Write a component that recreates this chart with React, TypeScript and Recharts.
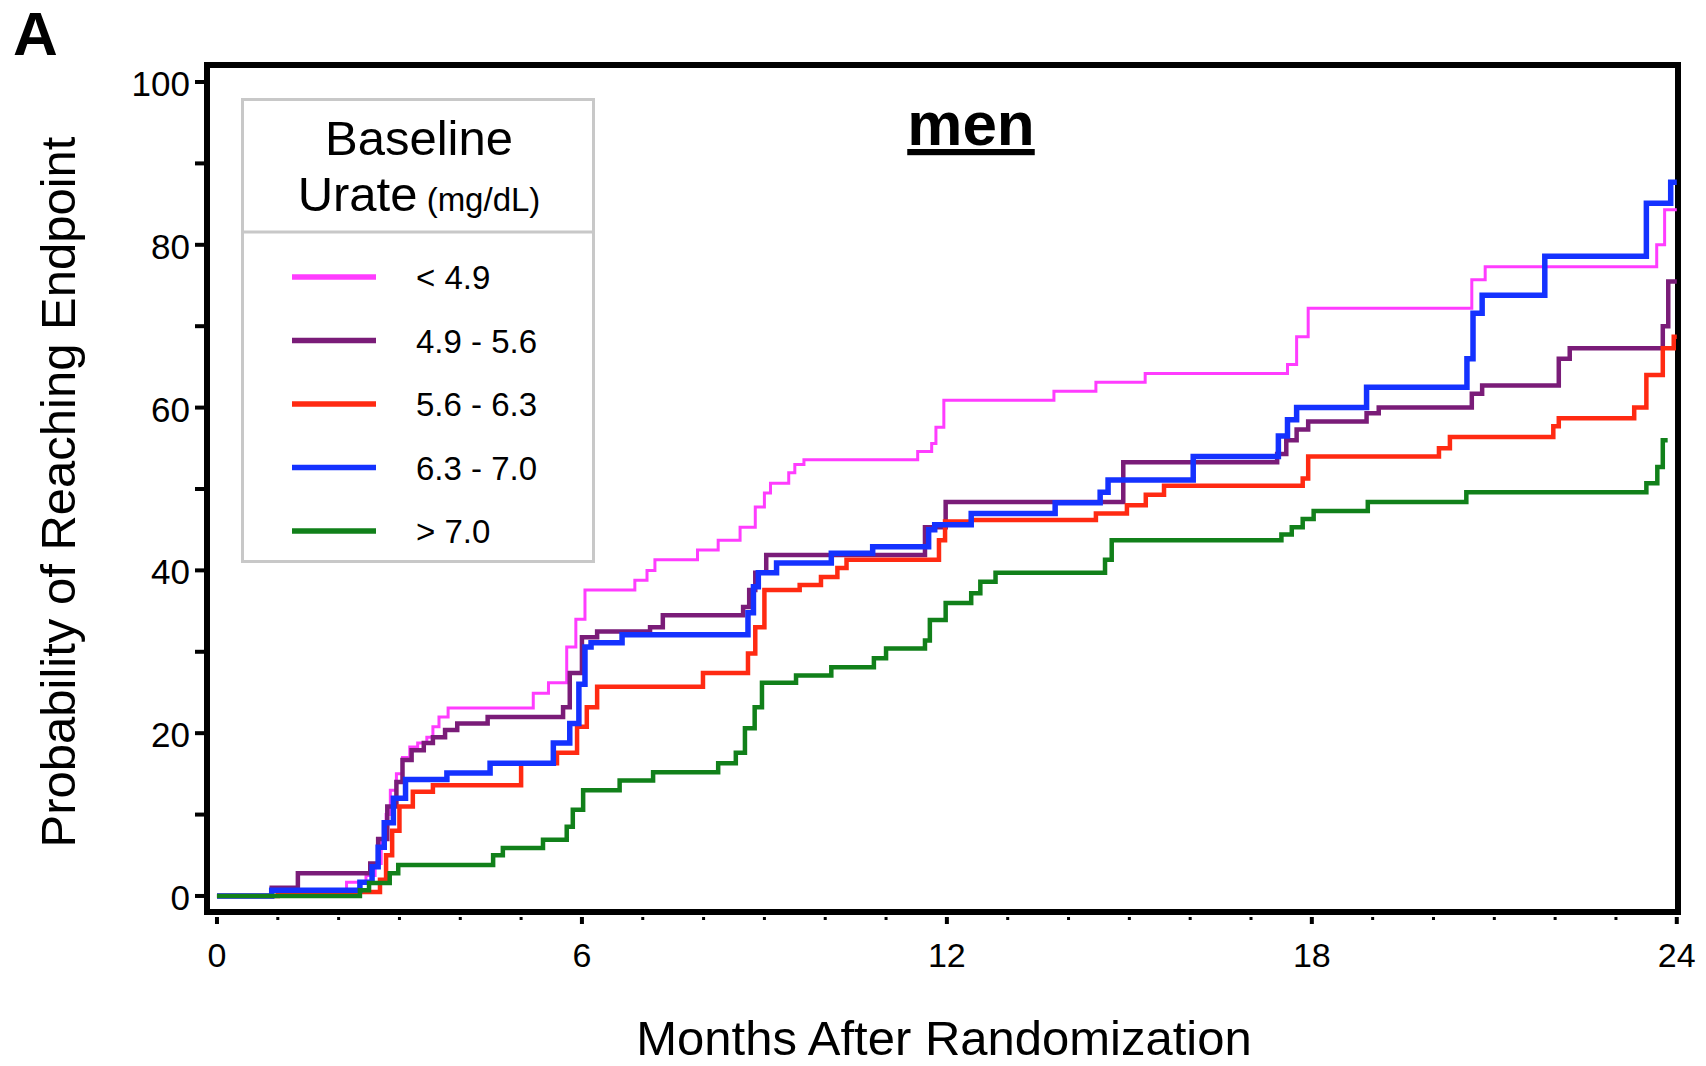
import { LineChart, Line, XAxis, YAxis, Legend, ReferenceArea } from 'recharts';

const FONT = '"Liberation Sans", Arial, Helvetica, sans-serif';

// series order follows the legend
const seriesNames = ['< 4.9', '4.9 - 5.6', '5.6 - 6.3', '6.3 - 7.0', '> 7.0'];
const seriesColors = ['#ff3cff', '#7a1c78', '#ff2a12', '#1432ff', '#11801a'];
const seriesWidths = [3, 4.5, 4.5, 5.5, 4.5];

// Kaplan-Meier steps (months, % reaching endpoint)
const under49Months = [0, 2.13, 2.45, 2.6, 2.7, 2.78, 2.85, 2.95, 3.05, 3.17, 3.3, 3.45, 3.55, 3.65, 3.8, 5.2, 5.45, 5.75, 5.9, 6.05, 6.87, 7.07, 7.2, 7.9, 8.24, 8.6, 8.85, 9.0, 9.1, 9.4, 9.5, 9.65, 11.52, 11.75, 11.82, 11.95, 13.76, 14.45, 15.26, 17.6, 17.75, 17.94, 20.63, 20.85, 23.67, 23.8, 24];
const under49Pct = [0, 1.7, 2.5, 4, 7, 10, 13, 15, 17, 18.3, 18.8, 19.5, 20.8, 22, 23.1, 24.9, 26.2, 30.6, 34, 37.6, 38.8, 40, 41.3, 42.5, 43.7, 45.3, 47.8, 49.5, 50.7, 52, 53, 53.6, 54.6, 55.6, 57.6, 60.9, 62, 63.1, 64.2, 65.3, 68.7, 72.2, 75.7, 77.3, 80, 84.3, 84.3];

const mid49Months = [0, 0.9, 1.33, 2.52, 2.65, 2.8, 2.95, 3.05, 3.2, 3.4, 3.55, 3.75, 3.95, 4.45, 5.69, 5.8, 6.0, 6.25, 7.12, 7.33, 8.65, 8.75, 8.85, 9.03, 11.64, 11.98, 14.9, 17.43, 17.58, 17.75, 17.94, 18.9, 19.1, 20.63, 20.8, 22.06, 22.24, 23.77, 23.86, 24];
const mid49Pct = [0, 1, 2.8, 4, 7, 11, 14, 16.7, 17.9, 18.8, 19.5, 20.4, 21.2, 22, 23.2, 27.4, 31.8, 32.5, 33, 34.5, 35.5, 37.6, 39.7, 41.9, 45.3, 48.4, 53.3, 54.3, 56, 57.3, 58.3, 59.3, 60, 61.7, 62.7, 66, 67.3, 70, 75.5, 75.5];

const mid56Months = [0, 1.0, 2.68, 2.78, 2.88, 3.0, 3.22, 3.55, 5.0, 5.59, 5.92, 6.08, 6.25, 7.99, 8.73, 8.85, 9.0, 9.58, 9.93, 10.2, 10.35, 11.87, 11.97, 12.4, 14.45, 14.96, 15.27, 15.57, 17.85, 17.94, 20.09, 20.27, 21.97, 22.06, 23.3, 23.5, 23.77, 23.95, 24];
const mid56Pct = [0, 0.5, 2, 5, 8, 11, 12.8, 13.6, 16.3, 17.6, 20.8, 23.2, 25.7, 27.4, 29.8, 33, 37.6, 38.2, 39.2, 40.3, 41.3, 43.7, 46, 46.2, 47, 48, 49.3, 50.4, 51.3, 54, 55, 56.4, 57.7, 58.7, 60, 64, 67.3, 68.7, 68.7];

const mid63Months = [0, 0.9, 2.35, 2.55, 2.65, 2.75, 2.9, 3.1, 3.78, 4.49, 5.53, 5.8, 5.95, 6.05, 6.15, 6.66, 8.73, 8.82, 8.9, 9.2, 10.1, 10.78, 11.7, 11.8, 12.4, 13.78, 14.52, 14.65, 16.05, 17.45, 17.6, 17.75, 18.9, 20.55, 20.65, 20.8, 21.83, 23.5, 23.9, 24];
const mid63Pct = [0, 0.7, 1.7, 3.6, 6, 9, 12, 14.3, 15.1, 16.3, 18.8, 21.2, 26, 30.6, 31.1, 32.1, 34.8, 38, 39.7, 40.9, 42.1, 42.9, 45, 45.6, 47, 48.3, 49.6, 51.1, 54, 56.5, 58.5, 60, 62.5, 66, 71.6, 73.8, 78.6, 85.1, 87.7, 87.7];

const over70Months = [0, 2.35, 2.5, 2.84, 2.98, 4.54, 4.7, 5.36, 5.75, 5.85, 6.02, 6.62, 7.17, 8.24, 8.53, 8.68, 8.84, 8.96, 9.52, 10.1, 10.8, 11.0, 11.64, 11.72, 11.98, 12.4, 12.55, 12.8, 14.6, 14.71, 17.5, 17.67, 17.85, 18.03, 18.92, 20.54, 23.5, 23.68, 23.77, 23.85];
const over70Pct = [0, 0.7, 1.6, 2.8, 3.8, 5, 5.9, 6.9, 8.5, 10.6, 13, 14.2, 15.2, 16.3, 17.6, 20.6, 23.2, 26.2, 27.1, 28.1, 29.2, 30.4, 31.4, 33.9, 36, 37.2, 38.6, 39.7, 41.3, 43.7, 44.4, 45.3, 46.3, 47.3, 48.4, 49.6, 50.7, 52.7, 56, 56];

const monthTicks = [0, 1, 2, 3, 4, 5, 6, 7, 8, 9, 10, 11, 12, 13, 14, 15, 16, 17, 18, 19, 20, 21, 22, 23, 24];
const labelledMonths = [0, 6, 12, 18, 24];
const pctTicks = [0, 10, 20, 30, 40, 50, 60, 70, 80, 90, 100];
const labelledPcts = [0, 20, 40, 60, 80, 100];

const X_DOMAIN: [number, number] = [-0.164, 24.02];
const Y_DOMAIN: [number, number] = [-1.97, 102.09];

const zip = (xs: number[], ys: number[]) => xs.map((x, i) => ({ x, y: ys[i] }));

const series = [
  zip(under49Months, under49Pct),
  zip(mid49Months, mid49Pct),
  zip(mid56Months, mid56Pct),
  zip(mid63Months, mid63Pct),
  zip(over70Months, over70Pct),
];

function MonthTick({ x, y, payload }: any) {
  const v = payload.value;
  const major = labelledMonths.includes(v);
  return (
    <g>
      <rect
        x={x - (major ? 2 : 1.5)}
        y={y + 5}
        width={major ? 4 : 3}
        height={major ? 7 : 3}
        fill="#000"
      />
      {major && (
        <text x={x} y={y + 55} textAnchor="middle" fontSize={34} fontFamily={FONT} fill="#000">
          {v}
        </text>
      )}
    </g>
  );
}

function PctTick({ x, y, payload }: any) {
  const v = payload.value;
  return (
    <g>
      <line x1={x - 12} x2={x} y1={y} y2={y} stroke="#000" strokeWidth={4} />
      {labelledPcts.includes(v) && (
        <text x={x - 17} y={y + 14} textAnchor="end" fontSize={35} fontFamily={FONT} fill="#000">
          {v}
        </text>
      )}
    </g>
  );
}

function UrateLegend({ payload }: any) {
  // keep the series order rather than the library's sorted order
  const rows = [...(payload || [])].sort(
    (a: any, b: any) => seriesNames.indexOf(a.value) - seriesNames.indexOf(b.value)
  );
  return (
    <svg width={354} height={465} style={{ display: 'block', fontFamily: FONT }}>
      <rect x={1.5} y={1.5} width={351} height={462} fill="#fff" stroke="#c8c8c8" strokeWidth={3} />
      <line x1={-2} x2={353} y1={134} y2={134} stroke="#c8c8c8" strokeWidth={3} />
      <text x={178} y={57} textAnchor="middle" fontSize={49} fill="#000">
        Baseline
      </text>
      <text x={178} y={113} textAnchor="middle" fill="#000">
        <tspan fontSize={49}>Urate</tspan>
        <tspan fontSize={33}> (mg/dL)</tspan>
      </text>
      {rows.map((entry: any, i: number) => {
        const cy = 179 + i * 63.5;
        return (
          <g key={entry.value}>
            <line x1={51} x2={135} y1={cy} y2={cy} stroke={entry.color} strokeWidth={5.5} />
            <text x={175} y={cy + 12} fontSize={33} fill="#000">
              {entry.value}
            </text>
          </g>
        );
      })}
    </svg>
  );
}

export default function App() {
  return (
    <div style={{ position: 'relative', width: 1698, height: 1058 }}>
      <LineChart
        width={1698}
        height={1058}
        margin={{ top: 57, right: 28, bottom: 74, left: 99 }}
      >
        <XAxis
          dataKey="x"
          type="number"
          domain={X_DOMAIN}
          allowDataOverflow
          ticks={monthTicks}
          interval={0}
          tick={<MonthTick />}
          tickLine={false}
          axisLine={false}
          tickSize={0}
          tickMargin={0}
          height={80}
        />
        <YAxis
          type="number"
          domain={Y_DOMAIN}
          allowDataOverflow
          ticks={pctTicks}
          interval={0}
          tick={<PctTick />}
          tickLine={false}
          axisLine={false}
          tickSize={0}
          tickMargin={0}
          width={100}
        />
        {series.map((data, i) => (
          <Line
            key={seriesNames[i]}
            data={data}
            dataKey="y"
            name={seriesNames[i]}
            type="stepAfter"
            stroke={seriesColors[i]}
            strokeWidth={seriesWidths[i]}
            dot={false}
            activeDot={false}
            isAnimationActive={false}
          />
        ))}
        <ReferenceArea
          x1={X_DOMAIN[0]}
          x2={X_DOMAIN[1]}
          y1={Y_DOMAIN[0]}
          y2={Y_DOMAIN[1]}
          fill="none"
          fillOpacity={0}
          stroke="#000"
          strokeWidth={6}
          ifOverflow="visible"
        />
        <Legend
          layout="vertical"
          align="center"
          verticalAlign="middle"
          itemSorter={null}
          content={<UrateLegend />}
          wrapperStyle={{ left: 233, top: 90, width: 354, height: 465 }}
        />
      </LineChart>
      <svg
        width={1706}
        height={1066}
        style={{ position: 'absolute', left: -8, top: -8, pointerEvents: 'none', fontFamily: FONT }}
      >
        <text x={13} y={55} fontSize={62} fontWeight="bold" fill="#000">
          A
        </text>
        <text
          x={971}
          y={145}
          fontSize={62}
          fontWeight="bold"
          textAnchor="middle"
          fill="#000"
          style={{ textDecoration: 'underline' }}
        >
          men
        </text>
        <text
          x={0}
          y={0}
          transform="translate(75 492) rotate(-90)"
          fontSize={49}
          textAnchor="middle"
          fill="#000"
        >
          Probability of Reaching Endpoint
        </text>
        <text x={944} y={1055} fontSize={49} textAnchor="middle" fill="#000">
          Months After Randomization
        </text>
      </svg>
    </div>
  );
}
